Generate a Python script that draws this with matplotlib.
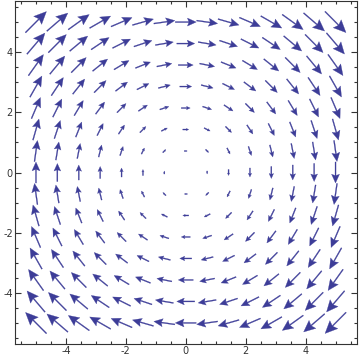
import numpy as np
import matplotlib
matplotlib.use("Agg")
import matplotlib.pyplot as plt
from matplotlib.ticker import MultipleLocator

# Grid of sample points (15 x 15 over [-5, 5])
x_points = np.linspace(-5, 5, 15)
y_points = np.linspace(-5, 5, 15)
# Vector field: rotation (y, -x)
def field(x, y):
    return y, -x

x_ticks = [-4, -2, 0, 2, 4]
y_ticks = [-4, -2, 0, 2, 4]
x_limits = (-5.7, 5.7)
y_limits = (-5.7, 5.7)

arrow_color = "#3d3d98"
scale = 0.14  # data length per unit magnitude

fig = plt.figure(figsize=(3.6, 3.6), dpi=100)
ax = fig.add_axes([15/360, 16/360, 341.5/360, 343/360])

X, Y = np.meshgrid(x_points, y_points)
U, V = field(X, Y)
for x0, y0, u, v in zip(X.ravel(), Y.ravel(), U.ravel(), V.ravel()):
    mag = np.hypot(u, v)
    if mag == 0:
        continue
    dx, dy = u * scale, v * scale
    L = mag * scale
    ax.arrow(x0 - dx / 2, y0 - dy / 2, dx, dy,
             width=0.034, head_width=0.38 * L, head_length=0.42 * L,
             length_includes_head=True, overhang=0.15,
             color=arrow_color, linewidth=0.2)

ax.set_xlim(*x_limits)
ax.set_ylim(*y_limits)
ax.set_xticks(x_ticks)
ax.set_yticks(y_ticks)
ax.xaxis.set_minor_locator(MultipleLocator(0.5))
ax.yaxis.set_minor_locator(MultipleLocator(0.5))
ax.tick_params(which="both", direction="in", top=True, right=True,
               labeltop=False, labelright=False, color="#333333", width=0.8)
ax.tick_params(which="major", length=4, labelsize=7, labelcolor="#333333", pad=1.5)
ax.tick_params(which="minor", length=2)
for s in ax.spines.values():
    s.set_color("#333333")
    s.set_linewidth(0.8)
ax.set_xticklabels([str(t) for t in x_ticks])
ax.set_yticklabels([str(t) for t in y_ticks])

fig.savefig("out.png", dpi=100)
